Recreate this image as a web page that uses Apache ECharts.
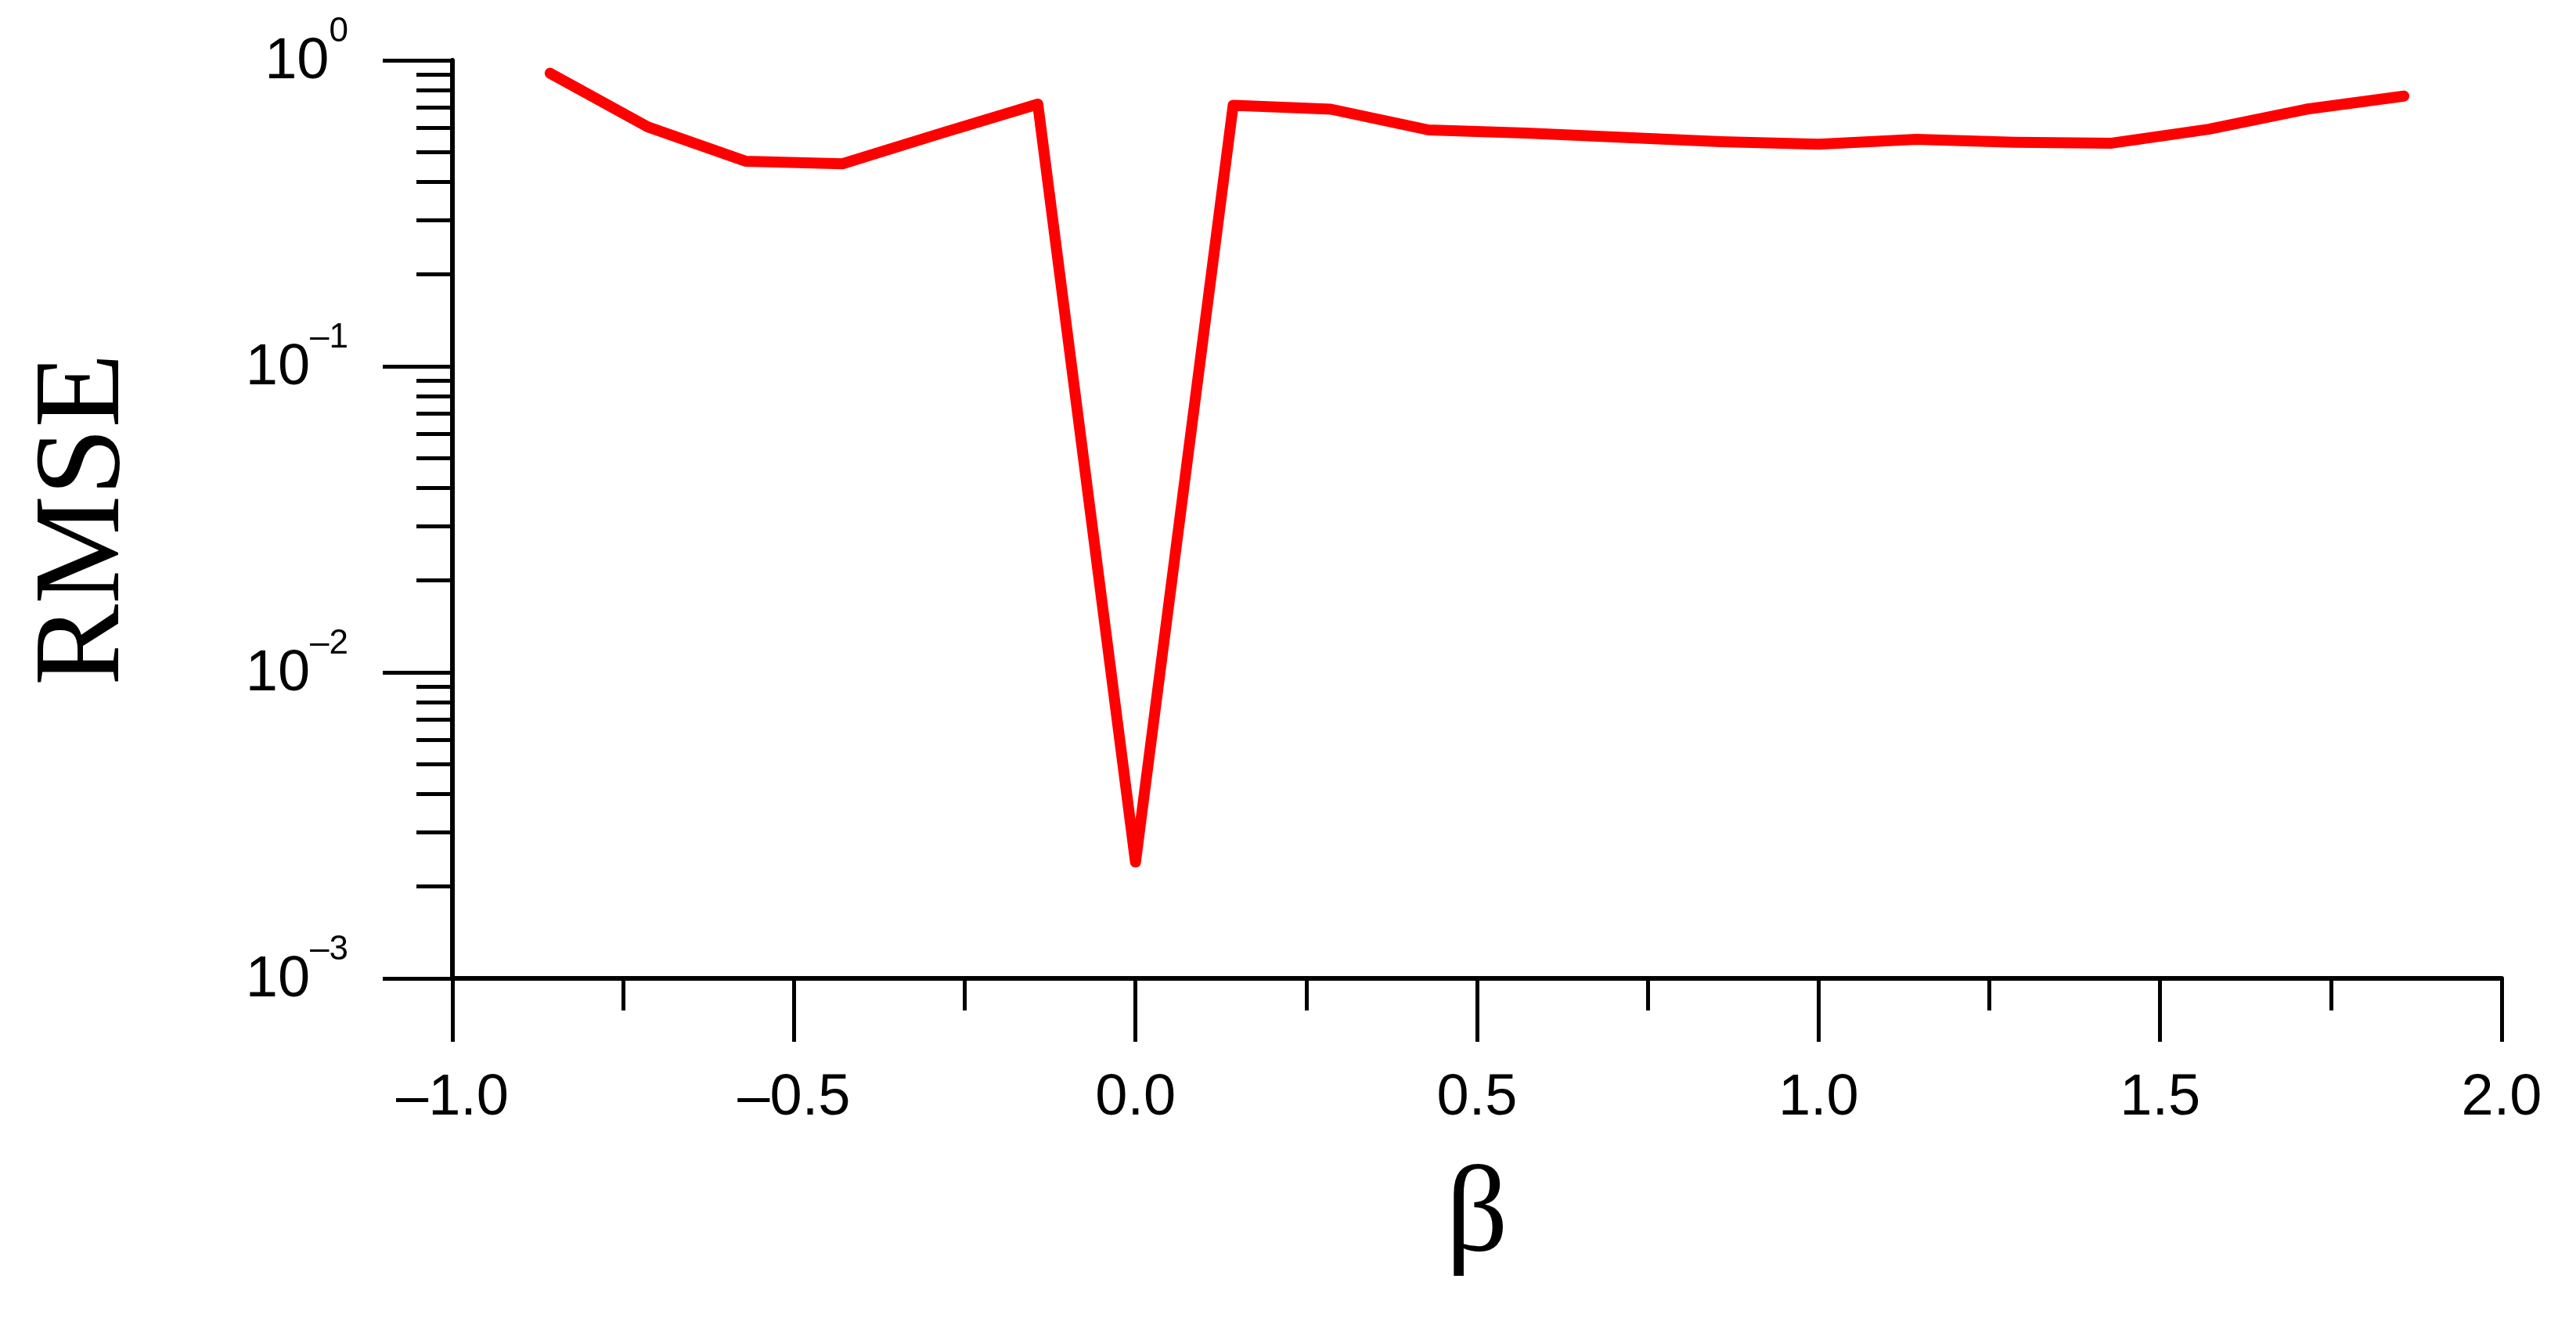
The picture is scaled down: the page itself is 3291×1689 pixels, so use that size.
<!DOCTYPE html>
<html>
<head>
<meta charset="utf-8">
<script src="https://cdn.jsdelivr.net/npm/echarts@6/dist/echarts.min.js"></script>
<style>
  html, body { margin: 0; padding: 0; background: #fff; }
  #chart { width: 3291px; height: 1689px; }
</style>
</head>
<body>
<div id="chart"></div>
<script>
// beta values along the x axis
const betaValues = [-0.857, -0.714, -0.571, -0.429, -0.286, -0.143, 0.0, 0.143, 0.286, 0.429,
                    0.571, 0.714, 0.857, 1.0, 1.143, 1.286, 1.429, 1.571, 1.714, 1.857];
// RMSE
const rmseValues = [0.907, 0.606, 0.468, 0.459, 0.576, 0.719, 0.0024, 0.713, 0.692, 0.592,
                    0.578, 0.560, 0.542, 0.532, 0.552, 0.540, 0.536, 0.595, 0.692, 0.764];

// minor ticks of the log axis (2..9 in each decade)
const yMinorTicks = [0.002, 0.003, 0.004, 0.005, 0.006, 0.007, 0.008, 0.009,
                     0.02, 0.03, 0.04, 0.05, 0.06, 0.07, 0.08, 0.09,
                     0.2, 0.3, 0.4, 0.5, 0.6, 0.7, 0.8, 0.9];

const sans = 'Liberation Sans, Arial, sans-serif';
const serif = 'Liberation Serif, Times New Roman, serif';

const chart = echarts.init(document.getElementById('chart'));

const option = {
  animation: false,
  backgroundColor: '#fff',
  grid: { left: 578, right: 95, top: 77, bottom: 439, containLabel: false },
  xAxis: {
    type: 'value',
    min: -1,
    max: 2,
    interval: 0.5,
    name: 'β',
    nameLocation: 'middle',
    nameGap: 228,
    nameTextStyle: { fontFamily: serif, fontSize: 156, color: '#000' },
    axisLine: { onZero: false, lineStyle: { color: '#000', width: 6 } },
    axisTick: { length: 81, lineStyle: { color: '#000', width: 5 } },
    minorTick: { show: true, splitNumber: 2, length: 41, lineStyle: { color: '#000', width: 5 } },
    axisLabel: {
      margin: 117,
      fontFamily: sans,
      fontSize: 74,
      color: '#000',
      formatter: v => v.toFixed(1).replace('-', '–')
    },
    splitLine: { show: false },
    minorSplitLine: { show: false }
  },
  yAxis: [
    {
      type: 'log',
      logBase: 10,
      min: 0.001,
      max: 1,
      position: 'left',
      name: 'RMSE',
      nameLocation: 'middle',
      nameGap: 390,
      nameTextStyle: { fontFamily: serif, fontSize: 156, color: '#000' },
      axisLine: { onZero: false, lineStyle: { color: '#000', width: 6 } },
      axisTick: { length: 89, lineStyle: { color: '#000', width: 5 } },
      axisLabel: {
        margin: 133,
        formatter: v => {
          const e = Math.round(Math.log10(v));
          return '{b|10}{s|' + String(e).replace('-', '–') + '}';
        },
        rich: {
          b: { fontFamily: sans, fontSize: 74, lineHeight: 116, color: '#000', padding: [6, 0, 0, 0] },
          s: { fontFamily: sans, fontSize: 44, lineHeight: 44, verticalAlign: 'top', color: '#000' }
        }
      },
      splitLine: { show: false }
    },
    {
      // second axis only used to draw the shorter minor ticks at log positions
      type: 'value',
      min: -3,
      max: 0,
      position: 'left',
      axisLine: { show: false, onZero: false },
      axisTick: {
        show: true,
        length: 46,
        customValues: yMinorTicks.map(v => Math.log10(v)),
        lineStyle: { color: '#000', width: 5 }
      },
      axisLabel: { show: false },
      splitLine: { show: false }
    }
  ],
  series: [
    {
      type: 'line',
      yAxisIndex: 0,
      data: betaValues.map((b, i) => [b, rmseValues[i]]),
      showSymbol: false,
      symbol: 'none',
      lineStyle: { color: '#ff0000', width: 14, cap: 'round', join: 'round' }
    }
  ]
};

chart.setOption(option);
</script>
</body>
</html>
